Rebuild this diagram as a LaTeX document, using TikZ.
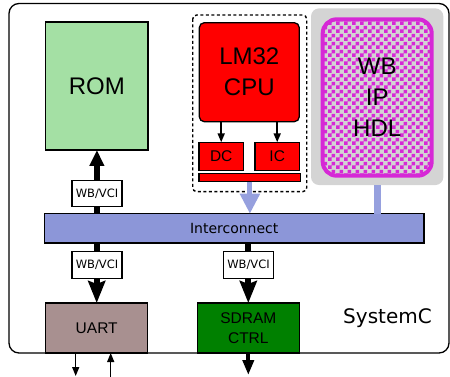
\documentclass[tikz,border=0pt]{standalone}
\usepackage{fontspec}
\setmainfont{Liberation Sans}
\newfontfamily\dejavu{DejaVu Sans}
\usetikzlibrary{arrows.meta,patterns}
\pgfdeclarepatternformonly{bigchecker}{\pgfpointorigin}{\pgfqpoint{8pt}{8pt}}{\pgfqpoint{8pt}{8pt}}{%
  \pgfpathrectangle{\pgfpointorigin}{\pgfqpoint{4pt}{4pt}}%
  \pgfpathrectangle{\pgfqpoint{4pt}{4pt}}{\pgfqpoint{4pt}{4pt}}%
  \pgfusepath{fill}}
\definecolor{romgreen}{RGB}{164,224,164}
\definecolor{cpured}{RGB}{255,0,0}
\definecolor{busblue}{RGB}{140,150,216}
\definecolor{lineblue}{RGB}{150,160,222}
\definecolor{uartbrown}{RGB}{168,144,144}
\definecolor{sdgreen}{RGB}{0,128,0}
\definecolor{bggray}{RGB}{212,212,212}
\definecolor{ipmag}{RGB}{214,40,214}
\tikzset{
  blk/.style={draw, line width=1.3pt, inner sep=0pt, outer sep=0pt, align=center},
  bigfont/.style={font=\fontsize{24}{31}\selectfont},
  midfont/.style={font=\fontsize{15.5}{20.5}\selectfont},
  wbbox/.style={blk, fill=white, minimum width=50pt, minimum height=26.5pt, font=\dejavu\fontsize{11.5}{13}\selectfont},
  fatarrow/.style={line width=6pt, -{Stealth[width=17pt,length=22pt,inset=3pt]}},
  thinarrow/.style={line width=1.3pt, -{Triangle[width=7pt,length=9pt]}}
}
\begin{document}
\begin{tikzpicture}[x=1pt,y=-1pt]
\useasboundingbox (0,0) rectangle (450,377);
% outer SystemC box
\draw[line width=1.3pt, rounded corners=10pt] (9,3.5) rectangle (449,353);
% gray background and WB IP HDL
\node[fill=bggray, rounded corners=8pt, minimum width=132.3pt, minimum height=176.7pt, inner sep=0pt, outer sep=0pt] (gray) at (377.2,96.7) {};
\node[draw=ipmag, line width=4pt, rounded corners=14pt, fill=bggray, pattern=bigchecker, pattern color=ipmag, minimum width=109pt, minimum height=156.4pt, inner sep=0pt, align=center, bigfont] (wbip) at (377.2,97.5) {WB\\IP\\HDL};
% dashed CPU group
\draw[line width=1.4pt, dash pattern=on 3pt off 2.5pt, rounded corners=4pt] (192.7,15) rectangle (306.7,191.7);
\node[blk, fill=cpured, rounded corners=5pt, minimum width=100pt, minimum height=99pt, bigfont] (cpu) at (249.3,72.2) {LM32\\CPU};
\node[blk, fill=cpured, minimum width=44.3pt, minimum height=28.4pt, midfont] (dc) at (221.2,156.5) {DC};
\node[blk, fill=cpured, minimum width=44.3pt, minimum height=28.4pt, midfont] (ic) at (277.2,156.5) {IC};
\node[blk, fill=cpured, minimum width=101.7pt, minimum height=8.4pt] (bar) at (249.9,177.5) {};
% ROM, interconnect, peripherals
\node[blk, fill=romgreen, minimum width=102.3pt, minimum height=128pt, bigfont] (rom) at (96.9,86) {ROM};
\node[blk, fill=busblue, minimum width=379.7pt, minimum height=29.3pt, font=\dejavu\fontsize{14}{16}\selectfont] (inter) at (234.2,228.4) {Interconnect};
\node[blk, fill=uartbrown, minimum width=102pt, minimum height=50pt, midfont] (uart) at (96.7,328) {UART};
\node[blk, fill=sdgreen, minimum width=102pt, minimum height=50pt, midfont] (sdram) at (248.3,328) {SDRAM\\CTRL};
\node[font=\dejavu\fontsize{20}{24}\selectfont] (sysc) at (387.5,318.5) {SystemC};
% connectors
\draw[thinarrow, line width=1.8pt] (cpu.south -| dc.north) -- (dc.north);
\draw[thinarrow, line width=1.8pt] (cpu.south -| ic.north) -- (ic.north);
\draw[lineblue, line width=5pt, -{Triangle[width=19pt,length=20pt]}] (bar.south) -- (bar.south |- inter.north);
\draw[lineblue, line width=7pt] (gray.south) -- (gray.south |- inter.north);
\draw[line width=6pt, -{Triangle[width=14pt,length=16pt]}] (inter.north -| rom.south) -- (rom.south);
\draw[fatarrow] (inter.south -| uart.north) -- (uart.north);
\draw[fatarrow] (inter.south -| sdram.north) -- (sdram.north);
\coordinate (sdout) at (248.3,375);
\draw[line width=4pt, -{Triangle[width=11pt,length=15pt]}] (sdram.south) -- (sdout);
\coordinate (utx) at (75.7,376);
\coordinate (urx) at (110.7,377);
\draw[thinarrow] ([xshift=-21pt]uart.south) -- (utx);
\draw[thinarrow] (urx) -- ([xshift=14pt]uart.south);
% WB/VCI adapters
\node[wbbox] (wb1) at (97,193.5) {WB/VCI};
\node[wbbox] (wb2) at (97,265) {WB/VCI};
\node[wbbox] (wb3) at (248.5,265) {WB/VCI};
\end{tikzpicture}
\end{document}
